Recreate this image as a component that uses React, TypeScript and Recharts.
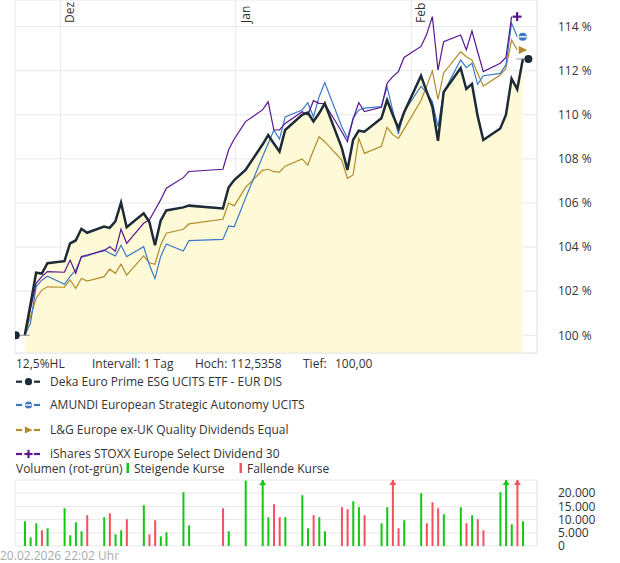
import React from 'react';
import { ComposedChart, Line, Area, Bar, XAxis, YAxis, CartesianGrid } from 'recharts';

// ---------- data ----------
const DATES = [
  '2025-11-24', '2025-11-25', '2025-11-26', '2025-11-27', '2025-11-28',
  '2025-12-01', '2025-12-02', '2025-12-03', '2025-12-04', '2025-12-05',
  '2025-12-08', '2025-12-09', '2025-12-10', '2025-12-11', '2025-12-12',
  '2025-12-15', '2025-12-16', '2025-12-17', '2025-12-18', '2025-12-19',
  '2025-12-22', '2025-12-23', '2025-12-29', '2025-12-30', '2025-12-31',
  '2026-01-02', '2026-01-05', '2026-01-06', '2026-01-07', '2026-01-08', '2026-01-09',
  '2026-01-12', '2026-01-13', '2026-01-14', '2026-01-15', '2026-01-16',
  '2026-01-19', '2026-01-20', '2026-01-21', '2026-01-22', '2026-01-23',
  '2026-01-26', '2026-01-27', '2026-01-28', '2026-01-29', '2026-01-30',
  '2026-02-02', '2026-02-03', '2026-02-04', '2026-02-05', '2026-02-06',
  '2026-02-09', '2026-02-10', '2026-02-11', '2026-02-12', '2026-02-13',
  '2026-02-16', '2026-02-17', '2026-02-18', '2026-02-19', '2026-02-20',
];

const DEKA = [
  100, 101.4, 102.84, 102.8, 103.27,
  103.36, 104.17, 104.3, 104.83, 104.65,
  104.93, 104.87, 105.17, 106.02, 104.9,
  105.53, 105.15, 104.08, 105.2, 105.66,
  105.8, 105.88, 105.75, 106.7, 107.04,
  107.5, 108.65, 109.08, 108.7, 108.33, 109.31,
  110.0, 110.1, 109.7, 110.07, 110.52,
  108.5, 107.5, 108.86, 109.28, 109.23,
  109.84, 110.67, 110.0, 109.39, 110.1,
  111.77, 111.05, 110.37, 108.82, 111.03,
  112.12, 111.17, 111.4, 109.95, 108.86,
  109.38, 109.99, 111.64, 111.16, 112.5358,
];

const AMUNDI = [
  100, 100.54, 102.2, 102.5, 102.68,
  102.31, 102.66, 102.96, 103.54, 103.6,
  103.87, 103.72, 103.6, 104.08, 103.57,
  104.02, 103.2, 102.57, 103.57, 104.14,
  103.82, 104.29, 104.35, 104.96, 104.92,
  106.22, 108.1, 108.7, 109.3, 108.9, 109.9,
  110.22, 110.55, 109.91, 110.82, 111.46,
  109.46, 108.93, 109.84, 110.22, 110.3,
  110.37, 111.27, 110.2, 109.12, 110.14,
  111.3, 111.0, 110.6, 109.46, 111.02,
  112.49, 112.14, 112.34, 111.38, 111.77,
  111.88, 112.26, 114.15, 113.54, null,
];

const LG = [
  100, 100.84, 101.68, 102.05, 102.2,
  102.18, 102.51, 102.13, 102.58, 102.46,
  102.66, 103.0, 102.81, 103.22, 102.73,
  103.6, 103.29, 103.22, 104.1, 104.63,
  104.81, 105.05, 105.26, 106.0, 105.87,
  106.71, 107.48, 107.53, 107.42, 107.4, 107.67,
  108.0, 107.72, 108.4, 109.0, 108.78,
  107.95, 107.12, 107.27, 108.93, 108.25,
  108.57, 109.43, 109.1, 108.93, 109.35,
  110.65, 111.3, 111.99, 110.7, 111.9,
  112.86, 112.63, 112.49, 111.88, 111.3,
  111.8, 112.1, 113.39, 112.94, null,
];

const ISHARES = [
  100, 101.2, 102.36, 102.66, 102.89,
  102.86, 103.41, 102.81, 103.57, 103.64,
  103.84, 104.02, 103.81, 104.81, 104.17,
  105.08, 105.23, 105.68, 106.14, 106.67,
  107.15, 107.43, 107.53, 108.4, 108.9,
  109.69, 110.22, 110.59, 109.31, 109.31, 109.61,
  110.14, 110.0, 110.64, 110.52, 110.5,
  109.23, 108.78, 109.8, 110.55, 110.15,
  110.34, 111.43, 111.73, 111.96, 112.6,
  113.1, 113.65, 114.45, 112.03, 113.31,
  113.62, 112.94, 113.8, 112.86, 111.96,
  112.34, 112.6, 114.45, null, null,
];

const VOLUME = [
  9370, 3290, 8610, 5950, 6710,
  14300, 4050, 8990, 5570, 11650,
  10890, 12400, 4430, 5950, 10130,
  15450, 4430, 9750, 3670, 5190,
  20380, 7850, 14300, 5570, 0,
  24800, 31000, 10890, 15830, 10890, 10890,
  19240, 6710, 11650, 10890, 5570,
  14690, 13930, 16960, 14690, 11650,
  8610, 14690, 30000, 6710, 9750,
  20000, 8610, 16580, 14300, 12030,
  14690, 8610, 11650, 10130, 5950,
  20380, 29000, 8230, 28000, 9370,
];

const SERIES_NAMES = [
  'Deka Euro Prime ESG UCITS ETF - EUR DIS',
  'AMUNDI European Strategic Autonomy UCITS',
  'L&G Europe ex-UK Quality Dividends Equal',
  'iShares STOXX Europe Select Dividend 30',
];
const MONTH_TICK_DATES = ['2025-12-01', '2026-01-01', '2026-02-01'];
const MONTH_LABELS = ['Dez', 'Jan', 'Feb'];
const PRICE_TICKS = [100, 102, 104, 106, 108, 110, 112, 114];
const VOLUME_TICKS = [0, 5000, 10000, 15000, 20000];
const INFO_TEXTS = ['12,5%HL', 'Intervall: 1 Tag', 'Hoch: 112,5358', 'Tief:', '100,00'];
const VOLUME_LEGEND = ['Volumen (rot-grün)', 'Steigende Kurse', 'Fallende Kurse'];
const TIMESTAMP = '20.02.2026 22:02 Uhr';

// ---------- config ----------
const EPOCH = Date.UTC(2025, 11, 1);
const CLOSE_FRACTION = 0.73;
const X_DOMAIN: [number, number] = [-8, 84.22];
const PRICE_DOMAIN: [number, number] = [99.197, 115.206];
const VOL_MAX = 25000;

const FONT = '"Open Sans", sans-serif';
const TEXT = '#333333';
const GRID = '#e8e8e8';
const C_DEKA = '#1d2b36';
const C_AMUNDI = '#3b78c8';
const C_LG = '#b08c2a';
const C_ISHARES = '#5a1590';
const FILL = '#fefad8';
const GREEN = '#12c812';
const RED = '#f5505f';

const dayNum = (s: string) => {
  const [y, m, d] = s.split('-').map(Number);
  return (Date.UTC(y, m - 1, d) - EPOCH) / 86400000;
};
const MONTH_T = MONTH_TICK_DATES.map(dayNum);

const rows = DATES.map((d, i) => ({
  t: dayNum(d) + CLOSE_FRACTION,
  deka: DEKA[i],
  amundi: AMUNDI[i],
  lg: LG[i],
  ishares: ISHARES[i],
  vol: VOLUME[i],
  up: i === 0 || DEKA[i] >= DEKA[i - 1],
}));

const lastIdx = (arr: (number | null)[]) => {
  for (let i = arr.length - 1; i >= 0; i--) if (arr[i] != null) return i;
  return -1;
};

const fmtVol = (v: number) => String(v).replace(/\B(?=(\d{3})+(?!\d))/g, '.');

// ---------- symbols ----------
function Symbol({ kind, cx, cy, color, r = 4 }: any) {
  if (kind === 'circle') return <circle cx={cx} cy={cy} r={r} fill={color} />;
  if (kind === 'barcircle')
    return (
      <g>
        <circle cx={cx} cy={cy} r={r} fill={color} />
        <line x1={cx - r + 0.5} x2={cx + r - 0.5} y1={cy} y2={cy} stroke="#fff" strokeWidth={1.4} />
      </g>
    );
  if (kind === 'triangle')
    return <polygon points={`${cx - r},${cy - r} ${cx + r + 0.5},${cy} ${cx - r},${cy + r}`} fill={color} />;
  return (
    <g stroke={color} strokeWidth={2.2}>
      <line x1={cx - r - 0.5} x2={cx + r + 0.5} y1={cy} y2={cy} />
      <line x1={cx} x2={cx} y1={cy - r - 0.5} y2={cy + r + 0.5} />
    </g>
  );
}

const KINDS = ['circle', 'barcircle', 'triangle', 'plus'];
const COLORS = [C_DEKA, C_AMUNDI, C_LG, C_ISHARES];
const ARRAYS = [DEKA, AMUNDI, LG, ISHARES];

const makeDot = (si: number) => {
  const last = lastIdx(ARRAYS[si] as any);
  return (props: any) => {
    const { cx, cy, index } = props;
    if (index === last && cx != null && cy != null) {
      const mx = cx + 5.5;
      return (
        <g key={`e${si}-${index}`}>
          {si === 0 && <line x1={mx - 12} x2={mx} y1={cy} y2={cy} stroke="#999" strokeWidth={1} />}
          <Symbol kind={KINDS[si]} cx={mx} cy={cy} color={COLORS[si]} />
        </g>
      );
    }
    if (si === 0 && index === 0 && cx != null) {
      const mx = cx - 9;
      return (
        <g key={`s${si}`}>
          <line x1={mx} x2={cx + 5} y1={cy} y2={cy} stroke="#999" strokeWidth={1} />
          <Symbol kind="circle" cx={mx} cy={cy} color={C_DEKA} />
        </g>
      );
    }
    return <g key={`n${si}-${index}`} />;
  };
};

function MonthTick(props: any) {
  const { x, payload } = props;
  const idx = MONTH_T.findIndex((m) => Math.abs(m - Number(payload?.value)) < 1e-6);
  const tx = x + 14;
  const ty = 23;
  return (
    <text x={tx} y={ty} transform={`rotate(-90 ${tx} ${ty})`} fontSize={12} fill={TEXT} fontFamily={FONT} textAnchor="start">
      {idx >= 0 ? MONTH_LABELS[idx] : ''}
    </text>
  );
}

function VolBar(props: any) {
  const { x, y, width, height, payload } = props;
  if (!payload || !payload.vol || height == null) return <g />;
  const color = payload.up ? GREEN : RED;
  const cx = x + width / 2;
  const bottom = y + height;
  const over = payload.vol > VOL_MAX;
  const top = over ? bottom - (height * VOL_MAX) / payload.vol : y;
  return (
    <g>
      <rect x={cx - 1} y={top} width={2} height={bottom - top} fill={color} />
      {over && <polygon points={`${cx - 3.5},${top + 5} ${cx + 3.5},${top + 5} ${cx},${top}`} fill={color} />}
    </g>
  );
}

const tickStyle = { fontSize: 12, fill: TEXT, fontFamily: FONT };

export default function App() {
  const legendY = [381.7, 405, 430, 454];
  return (
    <div style={{ position: 'absolute', left: 0, top: 0, width: 620, height: 563, background: '#fff', fontFamily: FONT }}>
      <div style={{ position: 'absolute', left: 0, top: 0 }}>
        <ComposedChart width={620} height={354} data={rows} margin={{ top: 0, right: 0, bottom: 0, left: 15 }}>
          <CartesianGrid stroke={GRID} />
          <XAxis
            dataKey="t"
            type="number"
            domain={X_DOMAIN}
            allowDataOverflow
            ticks={MONTH_T}
            interval={0}
            height={1}
            tickLine={false}
            axisLine={{ stroke: GRID }}
            tick={(p: any) => <MonthTick {...p} />}
          />
          <YAxis
            orientation="right"
            width={83}
            domain={PRICE_DOMAIN}
            allowDataOverflow
            ticks={PRICE_TICKS}
            interval={0}
            tickLine={false}
            axisLine={{ stroke: GRID }}
            tickMargin={15}
            tick={tickStyle}
            tickFormatter={(v: number) => `${v} %`}
          />
          <Area dataKey="deka" type="linear" fill={FILL} fillOpacity={1} stroke="none" isAnimationActive={false} dot={false} activeDot={false} />
          <Line dataKey="lg" type="linear" stroke={C_LG} strokeWidth={1.2} dot={makeDot(2)} activeDot={false} isAnimationActive={false} />
          <Line dataKey="amundi" type="linear" stroke={C_AMUNDI} strokeWidth={1.2} dot={makeDot(1)} activeDot={false} isAnimationActive={false} />
          <Line dataKey="ishares" type="linear" stroke={C_ISHARES} strokeWidth={1.2} dot={makeDot(3)} activeDot={false} isAnimationActive={false} />
          <Line dataKey="deka" type="linear" stroke={C_DEKA} strokeWidth={2.5} dot={makeDot(0)} activeDot={false} isAnimationActive={false} />
        </ComposedChart>
      </div>

      <svg width={620} height={563} style={{ position: 'absolute', left: 0, top: 0, pointerEvents: 'none' }}>
        <g fontFamily={FONT} fontSize={12} fill={TEXT}>
          <text x={16} y={368}>{INFO_TEXTS[0]}</text>
          <text x={92} y={368}>{INFO_TEXTS[1]}</text>
          <text x={195} y={368}>{INFO_TEXTS[2]}</text>
          <text x={303} y={368}>{INFO_TEXTS[3]}</text>
          <text x={335} y={368}>{INFO_TEXTS[4]}</text>
          {SERIES_NAMES.map((name, i) => (
            <g key={name}>
              <line x1={16} x2={40} y1={legendY[i]} y2={legendY[i]} stroke={COLORS[i]} strokeWidth={2.2} />
              <rect x={22} y={legendY[i] - 5} width={12} height={10} fill="#fff" />
              <Symbol kind={KINDS[i]} cx={28.5} cy={legendY[i]} color={COLORS[i]} r={3.6} />
              <text x={50} y={legendY[i] + 4.3}>{name}</text>
            </g>
          ))}
          <text x={16} y={472.5}>{VOLUME_LEGEND[0]}</text>
          <rect x={126.5} y={463} width={2.5} height={10} fill={GREEN} />
          <text x={134} y={472.5}>{VOLUME_LEGEND[1]}</text>
          <rect x={239.5} y={463} width={2.5} height={10} fill={RED} />
          <text x={247} y={472.5}>{VOLUME_LEGEND[2]}</text>
          <text x={0} y={560} fill="#aaaaaa">{TIMESTAMP}</text>
        </g>
      </svg>

      <div style={{ position: 'absolute', left: 0, top: 470 }}>
        <ComposedChart width={620} height={86} data={rows} margin={{ top: 10, right: 0, bottom: 10, left: 15 }}>
          <CartesianGrid stroke={GRID} />
          <XAxis
            dataKey="t"
            type="number"
            domain={X_DOMAIN}
            allowDataOverflow
            ticks={MONTH_T}
            interval={0}
            height={0}
            tickLine={false}
            tick={false}
            axisLine={{ stroke: '#dddddd', strokeWidth: 2 }}
          />
          <YAxis
            orientation="right"
            width={83}
            domain={[0, VOL_MAX]}
            allowDataOverflow
            ticks={VOLUME_TICKS}
            interval={0}
            tickLine={false}
            axisLine={{ stroke: GRID }}
            tickMargin={15}
            tick={tickStyle}
            tickFormatter={fmtVol}
          />
          <Bar dataKey="vol" barSize={2} shape={<VolBar />} isAnimationActive={false} />
        </ComposedChart>
      </div>
    </div>
  );
}
